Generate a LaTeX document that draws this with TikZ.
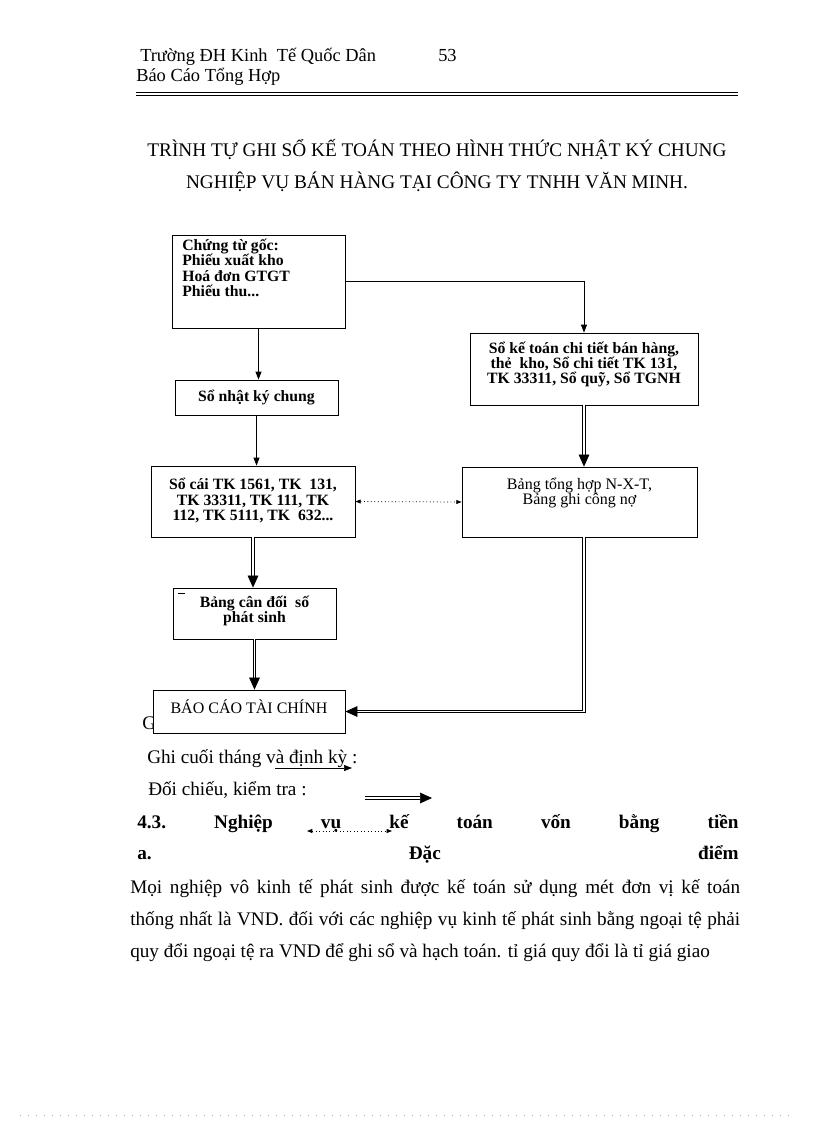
\documentclass[tikz,border=0pt]{standalone}
\usepackage{fontspec}
\setmainfont{Liberation Serif}
\usetikzlibrary{positioning,arrows.meta,calc}
\tikzset{
  ledgerbox/.style={draw=black, line width=0.6pt, fill=white, inner sep=0pt},
  boxtext/.style={font=\fontsize{11.8}{11.4}\selectfont\bfseries, align=center, inner sep=0pt},
  boxplain/.style={boxtext, font=\fontsize{12}{11.4}\selectfont},
  pagetext/.style={font=\fontsize{14.4}{24}\selectfont, inner sep=0pt, anchor=base west},
  boldline/.style={pagetext, font=\fontsize{14.4}{24}\selectfont\bfseries},
  headtext/.style={font=\fontsize{13.8}{15}\selectfont, inner sep=0pt, anchor=base west},
  titletext/.style={font=\fontsize{14.45}{17}\selectfont, inner sep=0pt, anchor=base},
  flow/.style={-{Triangle[length=6pt, width=4.5pt]}, line width=0.6pt},
  dblflow/.style={double, double distance=1.3pt, line width=0.55pt, -{Triangle[length=9pt, width=8pt]}},
  checkflow/.style={{Triangle[length=4pt, width=3pt]}-{Triangle[length=4pt, width=3pt]}, dotted, line width=0.6pt},
}
\begin{document}
\begin{tikzpicture}[x=0.75pt, y=-0.75pt]
\useasboundingbox (0,0) rectangle (816,1123);
% --- page header ---
\node[headtext] (school) at (140,62) {Trường ĐH Kinh\ \ Tế Quốc Dân};
\node[headtext] (pageno) at (438,62) {53};
\node[headtext] (report) at (136,82) {Báo Cáo Tổng Hợp};
\draw[line width=0.6pt] (136,92) -- (738,92);
\draw[line width=0.6pt] (136,95) -- (738,95);
% --- title ---
\node[titletext] (title1) at (437,157) {TRÌNH TỰ GHI SỔ KẾ TOÁN THEO HÌNH THỨC NHẬT KÝ CHUNG};
\node[titletext] (title2) at (437,189) {NGHIỆP VỤ BÁN HÀNG TẠI CÔNG TY TNHH VĂN MINH.};
% --- stray letter behind the report box ---
\node[pagetext] (hidden) at (142,729) {G};
% --- boxes ---
\node[ledgerbox, minimum width=129.75pt, minimum height=69.75pt] (goc) at (258.5,281.5) {};
\node[ledgerbox, minimum width=122.25pt, minimum height=26.25pt] (nkc) at (256.5,397.5) {};
\node[ledgerbox, minimum width=171pt, minimum height=54pt] (chitiet) at (584,369) {};
\node[ledgerbox, minimum width=153pt, minimum height=53.25pt] (socai) at (253,501.5) {};
\node[ledgerbox, minimum width=176.25pt, minimum height=52.5pt] (tonghop) at (579.5,502) {};
\node[ledgerbox, minimum width=122.25pt, minimum height=38.25pt] (candoi) at (254.5,613.5) {};
\node[ledgerbox, minimum width=144pt, minimum height=32.25pt] (bctc) at (249,711.5) {};
% --- box texts ---
\node[boxtext, align=left, anchor=north west] (gocT) at (182,239) {Chứng từ gốc:\\Phiếu xuất kho\\Hoá đơn GTGT\\Phiếu thu...};
\node[boxtext] (nkcT) at (nkc) {Sổ nhật ký chung};
\node[boxtext, anchor=north] (chitietT) at ($(chitiet.north)+(0,9)$) {Sổ kế toán chi tiết bán hàng,\\thẻ\ \ kho, Sổ chi tiết TK 131,\\TK 33311, Sổ quỹ, Sổ TGNH};
\node[boxtext] (socaiT) at ($(socai)+(0,-1)$) {Sổ cái TK 1561, TK\ \ 131,\\TK 33311, TK 111, TK\\112, TK 5111, TK\ \ 632...};
\node[boxplain, anchor=north] (tonghopT) at ($(tonghop.north)+(0,11)$) {Bảng tổng hợp N-X-T,\\Bảng ghi công nợ};
\node[boxtext, anchor=north] (candoiT) at ($(candoi.north)+(0,8)$) {Bảng cân đối\ \ số\\phát sinh};
\node[boxplain, anchor=north] (bctcT) at ($(bctc.north)+(0,10)$) {BÁO CÁO TÀI CHÍNH};
\draw[line width=0.5pt] (178,593) -- (185,593);
% --- flows ---
\draw[flow] (goc.south) -- (goc.south |- nkc.north);
\draw[flow] (goc.east) -| (chitiet.north);
\draw[flow] (nkc.south) -- (nkc.south |- socai.north);
\draw[dblflow] (chitiet.south) -- (chitiet.south |- tonghop.north);
\draw[checkflow] (socai.east) -- (tonghop.west);
\draw[dblflow] (socai.south) -- (socai.south |- candoi.north);
\draw[dblflow] (candoi.south) -- (candoi.south |- bctc.north);
\draw[dblflow] (chitiet.south |- tonghop.south) |- (bctc.east);
% --- legend ---
\node[pagetext] (legend1) at (147,763) {Ghi cuối tháng và định kỳ :};
\node[pagetext] (legend2) at (148,795) {Đối chiếu, kiểm tra :};
\coordinate (l1a) at (275,768);
\coordinate (l1b) at (352,768);
\coordinate (l2a) at (365,798);
\coordinate (l2b) at (432,798);
\coordinate (l3a) at (307,831);
\coordinate (l3b) at (392,831);
\draw[flow, line width=0.5pt] (l1a) -- (l1b);
\draw[dblflow] (l2a) -- (l2b);
% --- following text ---
\node[boldline] (sec43) at (137,828) {\makebox[451pt]{4.3.\hfill Nghiệp\hfill vụ\hfill kế\hfill toán\hfill vốn\hfill bằng\hfill tiền}};
\draw[checkflow] (l3a) -- (l3b);
\node[boldline] (seca) at (137,859) {\makebox[451pt]{a.\hfill Đặc\hfill điểm}};
\node[pagetext] (body1) at (130,893) {\makebox[457.5pt][s]{Mọi nghiệp vô kinh tế phát sinh được kế toán sử dụng mét đơn vị kế toán}};
\node[pagetext] (body2) at (130,925) {\makebox[457.5pt][s]{thống nhất là VND. đối với các nghiệp vụ kinh tế phát sinh bằng ngoại tệ phải}};
\node[pagetext] (body3) at (130,957) {quy đổi ngoại tệ ra VND để ghi sổ và hạch toán. tỉ giá quy đổi là tỉ giá giao};
% --- footer ---
\draw[black!35, line width=0.4pt, dash pattern=on 0.6pt off 5.4pt] (20,1115) -- (792,1115);
\end{tikzpicture}
\end{document}
